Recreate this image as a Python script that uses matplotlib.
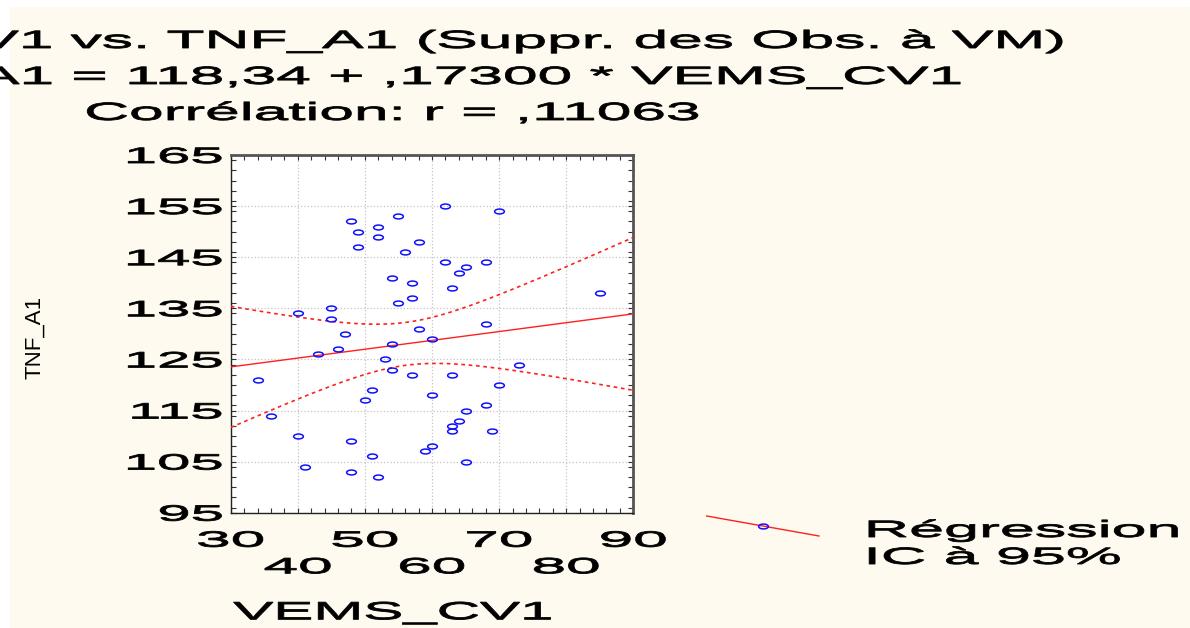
import numpy as np
import matplotlib
matplotlib.use('Agg')
import matplotlib.pyplot as plt
from matplotlib.lines import Line2D
from matplotlib.patches import Rectangle
from matplotlib.path import Path
from matplotlib.transforms import Affine2D
from matplotlib.patheffects import AbstractPathEffect
from matplotlib.ticker import MultipleLocator, FixedLocator, FixedFormatter

plt.rcParams['font.family'] = ['Liberation Sans', 'DejaVu Sans']

# VEMS_CV1 / TNF_A1 observations
vems = [48, 55, 52, 49, 52, 58, 49, 56, 54, 57, 57, 55, 45, 40, 45, 58,
        62, 70, 62, 65, 64, 68, 63, 85, 68, 47, 60, 54, 46, 43, 53, 54,
        57, 34, 51, 60, 50, 36, 40, 48, 60, 59, 51, 41, 48, 52, 73, 63,
        70, 68, 65, 64, 63, 63, 69, 65]
tnf = [152, 153, 151, 150, 149, 148, 147, 146, 141, 140, 137, 136, 135, 134, 133, 131,
       155, 154, 144, 143, 142, 144, 139, 138, 132, 130, 129, 128, 127, 126, 125, 123,
       122, 121, 119, 118, 117, 114, 110, 109, 108, 107, 106, 104, 103, 102, 124, 122,
       120, 116, 115, 113, 112, 111, 111, 105]

intercept = 118.34
slope = 0.17300
r_value = 0.11063

x_ticks = [30, 40, 50, 60, 70, 80, 90]
y_ticks = [95, 105, 115, 125, 135, 145, 155, 165]

title_lines = ['VEMS_CV1 vs. TNF_A1 (Suppr. des Obs. à VM)',
               'TNF_A1 = 118,34 + ,17300 * VEMS_CV1',
               'Corrélation: r = ,11063']
legend_labels = ['Régression', 'IC à 95%']


class Stretch(AbstractPathEffect):
    """Widen glyphs horizontally around their left, centre or right edge."""
    def __init__(self, sx, anchor='center', lw=0.6):
        super().__init__()
        self.sx = sx
        self.anchor = anchor
        self.lw = lw

    def draw_path(self, renderer, gc, tpath, affine, rgbFace=None):
        if len(tpath.vertices) == 0:
            return
        ext = tpath.get_extents()
        ref = {'left': ext.x0, 'right': ext.x1, 'center': 0.5 * (ext.x0 + ext.x1)}[self.anchor]
        st = Affine2D().translate(-ref, 0).scale(self.sx, 1).translate(ref, 0)
        gc0 = renderer.new_gc()
        gc0.copy_properties(gc)
        gc0.set_linewidth(self.lw)
        gc0.set_joinstyle('round')
        renderer.draw_path(gc0, tpath, st + affine, rgbFace)
        gc0.restore()


W, H = 1190, 628
fig = plt.figure(figsize=(W / 100, H / 100), dpi=100)
fig.patch.set_facecolor('white')
fig.add_artist(Rectangle((10 / W, 0), 1 - 10 / W, 1 - 7 / H, transform=fig.transFigure,
                         facecolor='#fefaef', edgecolor='none', zorder=-10))

ax = fig.add_axes([230.7 / W, 1 - 512.7 / H, 402.6 / W, 357.7 / H])
ax.set_facecolor('white')

x = np.array(vems, dtype=float)
y = np.array(tnf, dtype=float)
n = len(x)

# regression line and 95% confidence band for the mean
xs = np.linspace(30, 90, 200)
fit = intercept + slope * xs
resid = y - (intercept + slope * x)
s = np.sqrt(np.sum(resid ** 2) / (n - 2))
sxx = np.sum((x - x.mean()) ** 2)
t_crit = 2.0049
half = t_crit * s * np.sqrt(1 / n + (xs - x.mean()) ** 2 / sxx)

ell = Path.unit_circle().transformed(Affine2D().scale(2.0, 1.0))

ax.plot(xs, fit, color='#ff2020', lw=1.0, zorder=3)
ax.plot(xs, fit + half, color='#ff2020', lw=1.2, ls=(0, (2.2, 2.2)), zorder=3)
ax.plot(xs, fit - half, color='#ff2020', lw=1.2, ls=(0, (2.2, 2.2)), zorder=3)
ax.plot(x, y, ls='none', marker=ell, ms=7, mfc='none', mec='#1010ff', mew=1.1, zorder=4)

ax.set_xlim(30, 90)
ax.set_ylim(95, 165)

ax.xaxis.set_major_locator(FixedLocator(x_ticks))
ax.xaxis.set_major_formatter(FixedFormatter(
    [str(v) if i % 2 == 0 else '\n' + str(v) for i, v in enumerate(x_ticks)]))
ax.yaxis.set_major_locator(FixedLocator(y_ticks))
ax.xaxis.set_minor_locator(MultipleLocator(2))
ax.yaxis.set_minor_locator(MultipleLocator(2))

ax.tick_params(which='both', direction='in', top=True, right=True, length=3.5,
               width=0.8, color='#333333')
ax.tick_params(axis='x', which='major', labelsize=16, pad=13)
ax.tick_params(axis='y', which='major', labelsize=16, pad=6)
for lab in ax.get_xticklabels():
    lab.set_path_effects([Stretch(2.8, 'center')])
    lab.set_linespacing(1.35)
for lab in ax.get_yticklabels():
    lab.set_path_effects([Stretch(2.7, 'right')])

ax.grid(True, which='major', color='#c4c4c4', ls=':', lw=0.9)
ax.set_axisbelow(True)

for side in ['left', 'bottom']:
    ax.spines[side].set_color('#222222')
    ax.spines[side].set_linewidth(1.0)
for side in ['top', 'right']:
    ax.spines[side].set_color('#555555')
    ax.spines[side].set_linewidth(2.0)

ax.set_xlabel('VEMS_CV1', fontsize=18, path_effects=[Stretch(2.4, 'center')])
ax.xaxis.set_label_coords((392.5 - 230.7) / 402.6, -0.245)
ax.set_ylabel('TNF_A1', fontsize=16)
ax.yaxis.set_label_coords(-0.462, 0.49)

# three-line heading
for i, line in enumerate(title_lines):
    fig.text(392.5 / W, 1 - (48 + 36 * i) / H, line, ha='center', va='baseline',
             fontsize=18, path_effects=[Stretch(2.49, 'center')])

# legend key
fig.add_artist(Line2D([706.7 / W, 819 / W], [1 - 516 / H, 1 - 536 / H],
                      transform=fig.transFigure, color='#ff2020', lw=1.0))
fig.add_artist(Line2D([762.7 / W], [1 - 525.7 / H], transform=fig.transFigure,
                      ls='none', marker=ell, ms=7, mfc='none', mec='#1010ff', mew=1.1))
for i, lab in enumerate(legend_labels):
    fig.text(867 / W, 1 - (537 + 27 * i) / H, lab, ha='left', va='baseline',
             fontsize=17, path_effects=[Stretch(2.66, 'left')])

fig.savefig('out.png', dpi=100, facecolor=fig.get_facecolor())
